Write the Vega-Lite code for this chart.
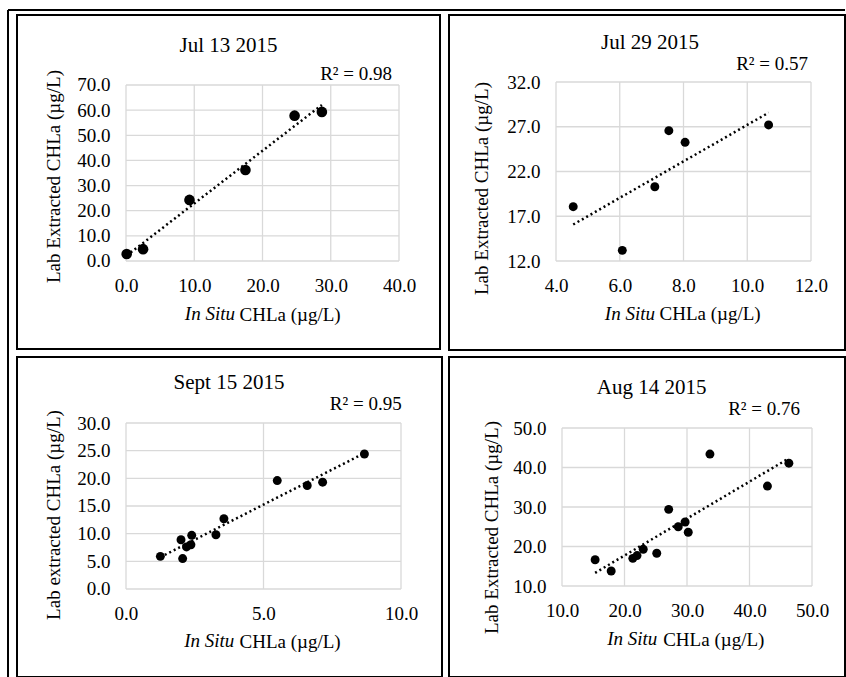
{
  "$schema": "https://vega.github.io/schema/vega-lite/v6.json",
  "padding": {"left": 6, "top": 7, "right": 0, "bottom": 0},
  "autosize": {"type": "pad"},
  "background": "white",
  "bounds": "flush",
  "columns": 2,
  "spacing": {"row": 7, "column": 7},
  "datasets": {
    "jul13": [
      {"insitu": 0.1, "lab": 2.8}, {"insitu": 2.5, "lab": 4.7}, {"insitu": 9.3, "lab": 24.3},
      {"insitu": 17.5, "lab": 36.2}, {"insitu": 24.7, "lab": 57.8}, {"insitu": 28.7, "lab": 59.3}
    ],
    "jul29": [
      {"insitu": 4.54, "lab": 18.07}, {"insitu": 6.08, "lab": 13.19}, {"insitu": 7.1, "lab": 20.3},
      {"insitu": 7.54, "lab": 26.56}, {"insitu": 8.05, "lab": 25.26}, {"insitu": 10.67, "lab": 27.2}
    ],
    "sep15": [
      {"insitu": 1.25, "lab": 5.9}, {"insitu": 2.0, "lab": 8.9}, {"insitu": 2.06, "lab": 5.5},
      {"insitu": 2.2, "lab": 7.6}, {"insitu": 2.36, "lab": 8.0}, {"insitu": 2.39, "lab": 9.7},
      {"insitu": 3.27, "lab": 9.8}, {"insitu": 3.56, "lab": 12.7}, {"insitu": 5.5, "lab": 19.6},
      {"insitu": 6.59, "lab": 18.7}, {"insitu": 7.15, "lab": 19.3}, {"insitu": 8.67, "lab": 24.4}
    ],
    "aug14": [
      {"insitu": 15.3, "lab": 16.65}, {"insitu": 17.87, "lab": 13.8}, {"insitu": 21.33, "lab": 17.0},
      {"insitu": 22.0, "lab": 17.7}, {"insitu": 23.0, "lab": 19.3}, {"insitu": 25.16, "lab": 18.3},
      {"insitu": 27.07, "lab": 29.4}, {"insitu": 28.6, "lab": 25.0}, {"insitu": 29.7, "lab": 26.2},
      {"insitu": 30.2, "lab": 23.6}, {"insitu": 33.67, "lab": 43.4}, {"insitu": 42.87, "lab": 35.3},
      {"insitu": 46.3, "lab": 41.1}
    ]
  },
  "concat": [
    {
      "width": 423, "height": 334,
      "layer": [
        {"data": {"values": [{"v": 0}, {"v": 10}, {"v": 20}, {"v": 30}, {"v": 40}]},
         "mark": {"type": "rule", "color": "#d9d9d9", "strokeWidth": 1.3},
         "encoding": {"x": {"field": "v", "type": "quantitative"}, "y": {"datum": 0}, "y2": {"datum": 70}}},
        {"data": {"values": [{"v": 0}, {"v": 10}, {"v": 20}, {"v": 30}, {"v": 40}, {"v": 50}, {"v": 60}, {"v": 70}]},
         "mark": {"type": "rule", "color": "#d9d9d9", "strokeWidth": 1.3},
         "encoding": {"y": {"field": "v", "type": "quantitative"}, "x": {"datum": 0}, "x2": {"datum": 40}}},
        {"data": {"name": "jul13"},
         "transform": [{"regression": "lab", "on": "insitu"}],
         "mark": {"type": "line", "color": "#000", "strokeWidth": 2.5, "strokeDash": [2, 3]},
         "encoding": {"x": {"field": "insitu", "type": "quantitative"}, "y": {"field": "lab", "type": "quantitative"}}},
        {"data": {"name": "jul13"},
         "mark": {"type": "point", "filled": true, "color": "#000", "opacity": 1, "size": 113},
         "encoding": {
           "x": {"field": "insitu", "type": "quantitative",
                 "scale": {"domain": [-15.971, 46.007], "nice": false, "zero": false},
                 "axis": {"values": [0, 10, 20, 30, 40], "format": ".1f", "offset": -88, "title": "CHLa (µg/L)",
                          "titleX": 222, "titleY": 53, "titleAlign": "left", "titleBaseline": "middle", "titleAngle": 0}},
           "y": {"field": "lab", "type": "quantitative",
                 "scale": {"domain": [-35.0, 97.84], "nice": false, "zero": false},
                 "axis": {"values": [0, 10, 20, 30, 40, 50, 60, 70], "format": ".1f", "offset": -109, "title": "Lab Extracted CHLa (µg/L)",
                          "titleX": -73, "titleY": 161, "titleAngle": 270, "titleAlign": "center", "titleBaseline": "middle"}}
         }},
        {"data": {"values": [{}]},
         "mark": {"type": "text", "text": "Jul 13 2015", "fontSize": 21, "align": "center", "baseline": "middle"},
         "encoding": {"x": {"datum": 15.02}, "y": {"datum": 85.51}}},
        {"data": {"values": [{}]},
         "mark": {"type": "text", "text": "R² = 0.98", "fontSize": 19, "align": "right", "baseline": "middle"},
         "encoding": {"x": {"datum": 38.97}, "y": {"datum": 74.37}}},
        {"data": {"values": [{}]},
         "mark": {"type": "text", "text": "In Situ", "fontSize": 19, "fontStyle": "italic", "align": "right", "baseline": "middle"},
         "encoding": {"x": {"datum": 15.97}, "y": {"datum": -21.08}}},
        {"data": {"values": [{}]},
         "mark": {"type": "rule", "color": "#000", "strokeWidth": 2},
         "encoding": {"x": {"datum": -17.289}, "y": {"datum": 99.83}, "y2": {"datum": -165.45}}},
        {"data": {"values": [{}]},
         "mark": {"type": "rule", "color": "#000", "strokeWidth": 2},
         "encoding": {"y": {"datum": 99.83}, "x": {"datum": -17.289}, "x2": {"datum": 105.35}}}
      ]
    },
    {
      "width": 396, "height": 335,
      "layer": [
        {"data": {"values": [{"v": 4}, {"v": 6}, {"v": 8}, {"v": 10}, {"v": 12}]},
         "mark": {"type": "rule", "color": "#d9d9d9", "strokeWidth": 1.3},
         "encoding": {"x": {"field": "v", "type": "quantitative"}, "y": {"datum": 12}, "y2": {"datum": 32}}},
        {"data": {"values": [{"v": 12}, {"v": 17}, {"v": 22}, {"v": 27}, {"v": 32}]},
         "mark": {"type": "rule", "color": "#d9d9d9", "strokeWidth": 1.3},
         "encoding": {"y": {"field": "v", "type": "quantitative"}, "x": {"datum": 4}, "x2": {"datum": 12}}},
        {"data": {"name": "jul29"},
         "transform": [{"regression": "lab", "on": "insitu"}],
         "mark": {"type": "line", "color": "#000", "strokeWidth": 2.5, "strokeDash": [2, 3]},
         "encoding": {"x": {"field": "insitu", "type": "quantitative"}, "y": {"field": "lab", "type": "quantitative"}}},
        {"data": {"name": "jul29"},
         "mark": {"type": "point", "filled": true, "color": "#000", "opacity": 1, "size": 80},
         "encoding": {
           "x": {"field": "insitu", "type": "quantitative",
                 "scale": {"domain": [0.6431, 13.0667], "nice": false, "zero": false},
                 "axis": {"values": [4, 6, 8, 10, 12], "format": ".1f", "offset": -89, "title": "CHLa (µg/L)",
                          "titleX": 210, "titleY": 52.7, "titleAlign": "left", "titleBaseline": "middle", "titleAngle": 0}},
           "y": {"field": "lab", "type": "quantitative",
                 "scale": {"domain": [2.056, 39.486], "nice": false, "zero": false},
                 "axis": {"values": [12, 17, 22, 27, 32], "format": ".1f", "offset": -107, "title": "Lab Extracted CHLa (µg/L)",
                          "titleX": -75, "titleY": 173, "titleAngle": 270, "titleAlign": "center", "titleBaseline": "middle"}}
         }},
        {"data": {"values": [{}]},
         "mark": {"type": "text", "text": "Jul 29 2015", "fontSize": 21, "align": "center", "baseline": "middle"},
         "encoding": {"x": {"datum": 6.949}, "y": {"datum": 36.36}}},
        {"data": {"values": [{}]},
         "mark": {"type": "text", "text": "R² = 0.57", "fontSize": 19, "align": "right", "baseline": "middle"},
         "encoding": {"x": {"datum": 11.906}, "y": {"datum": 34.04}}},
        {"data": {"values": [{}]},
         "mark": {"type": "text", "text": "In Situ", "fontSize": 19, "fontStyle": "italic", "align": "right", "baseline": "middle"},
         "encoding": {"x": {"datum": 7.106}, "y": {"datum": 6.112}}}
      ]
    },
    {
      "width": 425, "height": 320,
      "layer": [
        {"data": {"values": [{"v": 0}, {"v": 5}, {"v": 10}]},
         "mark": {"type": "rule", "color": "#d9d9d9", "strokeWidth": 1.3},
         "encoding": {"x": {"field": "v", "type": "quantitative"}, "y": {"datum": 0}, "y2": {"datum": 30}}},
        {"data": {"values": [{"v": 0}, {"v": 5}, {"v": 10}, {"v": 15}, {"v": 20}, {"v": 25}, {"v": 30}]},
         "mark": {"type": "rule", "color": "#d9d9d9", "strokeWidth": 1.3},
         "encoding": {"y": {"field": "v", "type": "quantitative"}, "x": {"datum": 0}, "x2": {"datum": 10}}},
        {"data": {"name": "sep15"},
         "transform": [{"regression": "lab", "on": "insitu"}],
         "mark": {"type": "line", "color": "#000", "strokeWidth": 2.5, "strokeDash": [2, 3]},
         "encoding": {"x": {"field": "insitu", "type": "quantitative"}, "y": {"field": "lab", "type": "quantitative"}}},
        {"data": {"name": "sep15"},
         "mark": {"type": "point", "filled": true, "color": "#000", "opacity": 1, "size": 80},
         "encoding": {
           "x": {"field": "insitu", "type": "quantitative",
                 "scale": {"domain": [-3.9636, 11.4909], "nice": false, "zero": false},
                 "axis": {"values": [0, 5, 10], "format": ".1f", "offset": -88, "title": "CHLa (µg/L)",
                          "titleX": 222, "titleY": 52, "titleAlign": "left", "titleBaseline": "middle", "titleAngle": 0}},
           "y": {"field": "lab", "type": "quantitative",
                 "scale": {"domain": [-15.904, 41.928], "nice": false, "zero": false},
                 "axis": {"values": [0, 5, 10, 15, 20, 25, 30], "format": ".1f", "offset": -109, "title": "Lab extracted CHLa (µg/L)",
                          "titleX": -73, "titleY": 157.5, "titleAngle": 270, "titleAlign": "center", "titleBaseline": "middle"}}
         }},
        {"data": {"values": [{}]},
         "mark": {"type": "text", "text": "Sept 15 2015", "fontSize": 21, "align": "center", "baseline": "middle"},
         "encoding": {"x": {"datum": 3.745}, "y": {"datum": 37.23}}},
        {"data": {"values": [{}]},
         "mark": {"type": "text", "text": "R² = 0.95", "fontSize": 19, "align": "right", "baseline": "middle"},
         "encoding": {"x": {"datum": 10.025}, "y": {"datum": 33.43}}},
        {"data": {"values": [{}]},
         "mark": {"type": "text", "text": "In Situ", "fontSize": 19, "fontStyle": "italic", "align": "right", "baseline": "middle"},
         "encoding": {"x": {"datum": 3.938}, "y": {"datum": -9.4}}}
      ]
    },
    {
      "width": 396, "height": 320,
      "layer": [
        {"data": {"values": [{"v": 10}, {"v": 20}, {"v": 30}, {"v": 40}, {"v": 50}]},
         "mark": {"type": "rule", "color": "#d9d9d9", "strokeWidth": 1.3},
         "encoding": {"x": {"field": "v", "type": "quantitative"}, "y": {"datum": 10}, "y2": {"datum": 50}}},
        {"data": {"values": [{"v": 10}, {"v": 20}, {"v": 30}, {"v": 40}, {"v": 50}]},
         "mark": {"type": "rule", "color": "#d9d9d9", "strokeWidth": 1.3},
         "encoding": {"y": {"field": "v", "type": "quantitative"}, "x": {"datum": 10}, "x2": {"datum": 50}}},
        {"data": {"name": "aug14"},
         "transform": [{"regression": "lab", "on": "insitu"}],
         "mark": {"type": "line", "color": "#000", "strokeWidth": 2.5, "strokeDash": [2, 3]},
         "encoding": {"x": {"field": "insitu", "type": "quantitative"}, "y": {"field": "lab", "type": "quantitative"}}},
        {"data": {"name": "aug14"},
         "mark": {"type": "point", "filled": true, "color": "#000", "opacity": 1, "size": 80},
         "encoding": {
           "x": {"field": "insitu", "type": "quantitative",
                 "scale": {"domain": [-8.08, 55.28], "nice": false, "zero": false},
                 "axis": {"values": [10, 20, 30, 40, 50], "format": ".1f", "offset": -91, "title": "CHLa (µg/L)",
                          "titleX": 213.7, "titleY": 53.3, "titleAlign": "left", "titleBaseline": "middle", "titleAngle": 0}},
           "y": {"field": "lab", "type": "quantitative",
                 "scale": {"domain": [-13.038, 67.975], "nice": false, "zero": false},
                 "axis": {"values": [10, 20, 30, 40, 50], "format": ".1f", "offset": -113, "title": "Lab Extracted CHLa (µg/L)",
                          "titleX": -71, "titleY": 170, "titleAngle": 270, "titleAlign": "center", "titleBaseline": "middle"}}
         }},
        {"data": {"values": [{}]},
         "mark": {"type": "text", "text": "Aug 14 2015", "fontSize": 21, "align": "center", "baseline": "middle"},
         "encoding": {"x": {"datum": 24.35}, "y": {"datum": 60.13}}},
        {"data": {"values": [{}]},
         "mark": {"type": "text", "text": "R² = 0.76", "fontSize": 19, "align": "right", "baseline": "middle"},
         "encoding": {"x": {"datum": 48.08}, "y": {"datum": 54.81}}},
        {"data": {"values": [{}]},
         "mark": {"type": "text", "text": "In Situ", "fontSize": 19, "fontStyle": "italic", "align": "right", "baseline": "middle"},
         "encoding": {"x": {"datum": 25.25}, "y": {"datum": -3.49}}}
      ]
    }
  ],
  "config": {
    "font": "Liberation Serif",
    "view": {"stroke": "#000", "strokeWidth": 2},
    "axis": {
      "domain": false, "ticks": false, "grid": false,
      "labelFontSize": 19, "labelColor": "#000", "labelFont": "Liberation Serif",
      "titleFontSize": 19, "titleFontWeight": "normal", "titleColor": "#000", "titleFont": "Liberation Serif",
      "labelFlush": false, "labelOverlap": false
    },
    "axisX": {"labelPadding": 15},
    "axisY": {"labelPadding": 16},
    "text": {"color": "#000", "font": "Liberation Serif"}
  }
}
